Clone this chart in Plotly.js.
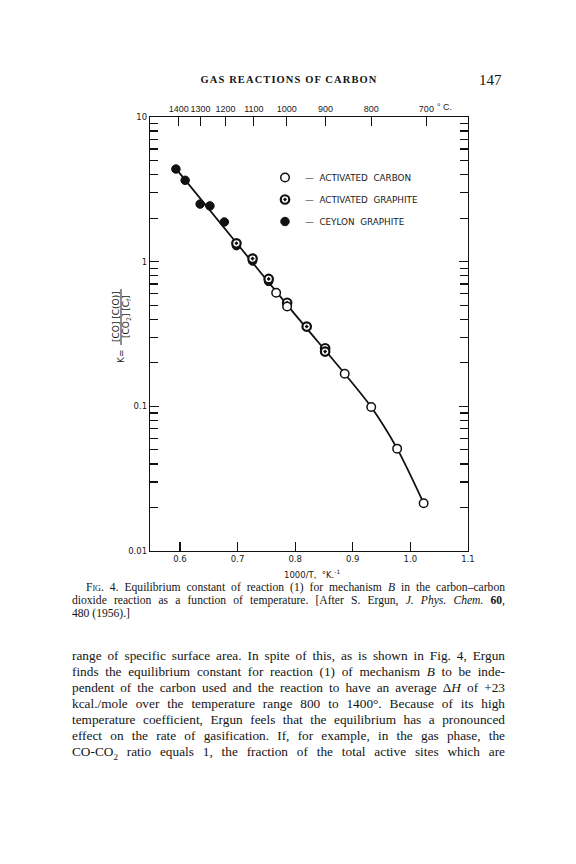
<!DOCTYPE html>
<html><head><meta charset="utf-8">
<script src="https://cdn.plot.ly/plotly-3.0.1.min.js"></script>
<style>
body{margin:0;padding:0;background:#fff;}
#page{position:relative;width:576px;height:864px;overflow:hidden;background:#fff;}
#chart{position:absolute;left:0;top:0;width:576px;height:864px;}
.txt{position:absolute;font-family:"Liberation Serif","DejaVu Serif",serif;color:#141414;}
.ln{display:block;text-align:justify;text-align-last:justify;white-space:nowrap;}
.sc{font-variant:small-caps;}
</style>
</head><body>
<div id="page">
<div id="chart"></div>
<div class="txt" style="left:189px;top:73px;width:200px;text-align:center;font-size:10.5px;font-weight:bold;letter-spacing:1.1px;line-height:14px;">GAS REACTIONS OF CARBON</div>
<div class="txt" style="left:479px;top:71px;font-size:15px;line-height:18px;">147</div>

<div class="txt" style="left:72px;top:581px;width:433px;font-size:11.6px;line-height:13px;">
<span class="ln" style="margin-left:14px;"><span class="sc">Fig</span>. 4. Equilibrium constant of reaction (1) for mechanism <i>B</i> in the carbon–carbon</span>
<span class="ln">dioxide reaction as a function of temperature. [After S. Ergun, <i>J. Phys. Chem.</i> <b>60</b>,</span>
<span style="display:block;">480 (1956).]</span>
</div>

<div class="txt" style="left:72px;top:648px;width:433px;font-size:13.3px;line-height:16px;">
<span class="ln">range of specific surface area. In spite of this, as is shown in Fig. 4, Ergun</span>
<span class="ln">finds the equilibrium constant for reaction (1) of mechanism <i>B</i> to be inde-</span>
<span class="ln">pendent of the carbon used and the reaction to have an average Δ<i>H</i> of +23</span>
<span class="ln">kcal./mole over the temperature range 800 to 1400°. Because of its high</span>
<span class="ln">temperature coefficient, Ergun feels that the equilibrium has a pronounced</span>
<span class="ln">effect on the rate of gasification. If, for example, in the gas phase, the</span>
<span class="ln">CO-CO<sub style="font-size:9px;line-height:0;">2</sub> ratio equals 1, the fraction of the total active sites which are</span>
</div>
</div>

<script>
// ---- data ----
const carbonX   = [0.767, 0.786, 0.886, 0.932, 0.977, 1.023];
const carbonY   = [0.61, 0.49, 0.168, 0.099, 0.051, 0.0214];
const graphiteX = [0.698, 0.726, 0.754, 0.786, 0.820, 0.852, 0.852];
const graphiteY = [1.34, 1.05, 0.76, 0.52, 0.356, 0.252, 0.239];
const ceylonX   = [0.593, 0.609, 0.635, 0.652, 0.677, 0.698, 0.726, 0.754];
const ceylonY   = [4.37, 3.65, 2.50, 2.43, 1.88, 1.29, 1.01, 0.73];
const curveX    = [0.593, 0.700, 0.800, 0.886, 0.932, 0.977, 1.023];
const curveY    = [4.40, 1.32, 0.43, 0.168, 0.099, 0.051, 0.0214];

const xTickVals = [0.6, 0.7, 0.8, 0.9, 1.0, 1.1];
const xTickText = ["0.6", "0.7", "0.8", "0.9", "1.0", "1.1"];
const tempC     = [1400, 1300, 1200, 1100, 1000, 900, 800, 700];
const tempText  = ["1400", "1300", "1200", "1100", "1000", "900", "800", "700"];
const decades   = [0.01, 0.1, 1, 10];
const decadeText= ["0.01", "0.1", "1", "10"];
const seriesNames = ["—\u00a0\u00a0ACTIVATED\u00a0\u00a0CARBON", "—\u00a0\u00a0ACTIVATED\u00a0\u00a0GRAPHITE", "—\u00a0\u00a0CEYLON\u00a0\u00a0GRAPHITE"];

// ---- build helpers ----
const minorVals = [];
decades.slice(0, -1).forEach(d => { for (let m = 2; m <= 9; m++) minorVals.push(d * m); });
const topVals = tempC.map(t => 1000 / (t + 273));

const W = 576, H = 864, L = 150, R = 468, T = 117, B = 551;
const px = x => (x - L) / (R - L);
const py = y => (B - y) / (B - T);

const tfont = {family: "DejaVu Sans, sans-serif", size: 8.5, color: "#1a1a1a"};
const topfont = {family: "Liberation Sans, Arial, sans-serif", size: 9, color: "#1a1a1a"};
const lfont = {family: "DejaVu Sans, sans-serif", size: 8.8, color: "#1a1a1a"};
const yfont = {family: "DejaVu Sans, sans-serif", size: 9, color: "#1a1a1a"};
const xr = [0.548, 1.1];

const traces = [
  {x: curveX, y: curveY, mode: "lines", line: {color: "#111", width: 1.8, shape: "spline", smoothing: 0.8},
   showlegend: false, hoverinfo: "skip"},
  {x: ceylonX, y: ceylonY, mode: "markers", name: seriesNames[2], legendgroup: "c", legendrank: 3,
   marker: {symbol: "circle", size: 8.5, color: "#111", line: {color: "#111", width: 1}}},
  {x: graphiteX, y: graphiteY, mode: "markers", name: seriesNames[1], legendgroup: "b", legendrank: 2,
   marker: {symbol: "circle-dot", size: 8.5, color: "#fff", line: {color: "#111", width: 2.2}}},
  {x: carbonX, y: carbonY, mode: "markers", name: seriesNames[0], legendgroup: "a", legendrank: 1,
   marker: {symbol: "circle", size: 8.5, color: "#fff", line: {color: "#111", width: 1.5}}},
  {x: [xr[0]], y: [null], xaxis: "x2", yaxis: "y2", showlegend: false, hoverinfo: "skip", mode: "markers"}
];

const axisLine = {showline: true, linecolor: "#111", linewidth: 1.2, showgrid: false, zeroline: false,
                  tickcolor: "#111", tickwidth: 1.2};

const layout = {
  width: W, height: H,
  margin: {l: L, r: W - R, t: T, b: H - B, autoexpand: false},
  paper_bgcolor: "rgba(0,0,0,0)", plot_bgcolor: "rgba(0,0,0,0)",
  font: tfont,
  showlegend: true,
  legend: {x: px(265), y: py(163), xanchor: "left", yanchor: "top", bgcolor: "rgba(0,0,0,0)",
           font: lfont, traceorder: "grouped", tracegroupgap: 3, itemclick: false},
  xaxis: Object.assign({range: xr, tickvals: xTickVals, ticktext: xTickText, ticks: "inside", ticklen: 9,
          mirror: true, tickangle: 0, tickfont: tfont}, axisLine),
  xaxis2: Object.assign({range: xr, overlaying: "x", side: "top", tickvals: topVals, ticktext: tempText,
          ticks: "inside", ticklen: 9, tickangle: 0, tickfont: topfont}, axisLine),
  yaxis: Object.assign({type: "log", range: [-2, 1], tickvals: decades, ticktext: decadeText, ticks: "inside",
          ticklen: 9, mirror: "ticks", tickfont: tfont}, axisLine),
  yaxis2: Object.assign({type: "log", range: [-2, 1], overlaying: "y", side: "left", tickvals: minorVals,
          showticklabels: false, ticks: "inside", ticklen: 8, mirror: "ticks"}, axisLine),
  annotations: [
    {xref: "paper", yref: "paper", x: px(435), y: py(107), xanchor: "left", yanchor: "middle",
     text: "° C.", showarrow: false, font: topfont},
    {xref: "paper", yref: "paper", x: px(312), y: py(574), xanchor: "center", yanchor: "middle",
     text: "1000/T,  °K.<sup>-1</sup>", showarrow: false, font: tfont},
    {xref: "paper", yref: "paper", x: px(116), y: py(317), xanchor: "center", yanchor: "middle", textangle: -90,
     text: "[CO] [C(O)]", showarrow: false, font: yfont},
    {xref: "paper", yref: "paper", x: px(126), y: py(317), xanchor: "center", yanchor: "middle", textangle: -90,
     text: "[CO<sub>2</sub>] [C<sub>f</sub>]", showarrow: false, font: yfont},
    {xref: "paper", yref: "paper", x: px(121), y: py(357), xanchor: "center", yanchor: "middle", textangle: -90,
     text: "K=", showarrow: false, font: yfont}
  ],
  shapes: [
    {type: "line", xref: "paper", yref: "paper", x0: px(121), x1: px(121), y0: py(345), y1: py(289),
     line: {color: "#1a1a1a", width: 1}}
  ]
};

Plotly.newPlot("chart", traces, layout, {displayModeBar: false, staticPlot: true});
</script>
</body></html>
